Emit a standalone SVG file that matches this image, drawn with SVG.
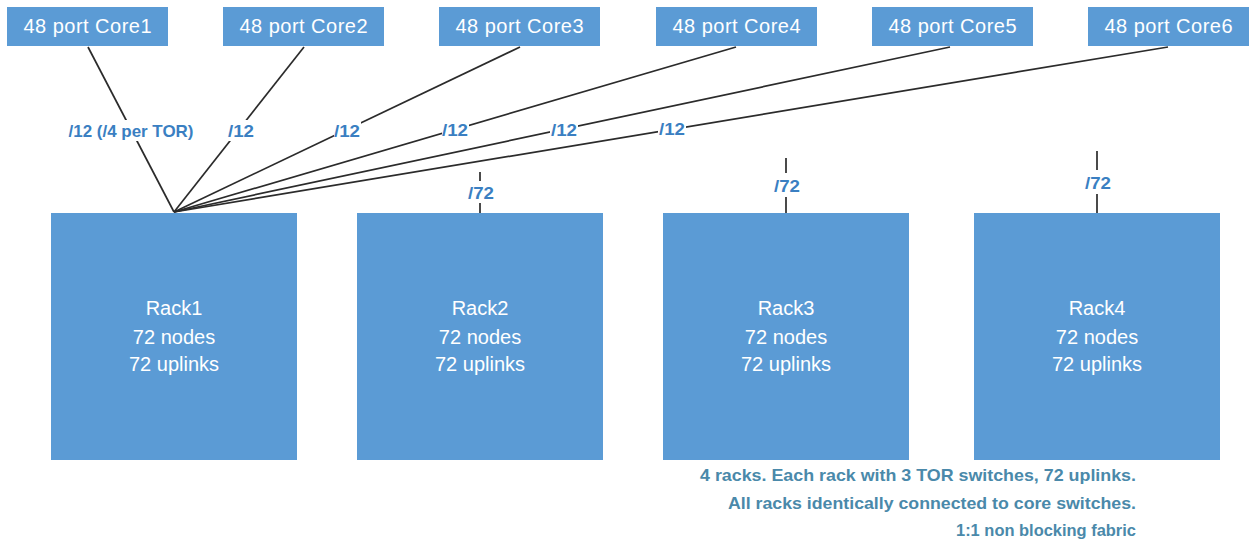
<svg xmlns="http://www.w3.org/2000/svg" width="1253" height="546" viewBox="0 0 1253 546">
<style>
.box{fill:#5B9BD5;}
.core{font-family:"Liberation Sans",Arial,sans-serif;font-size:20px;fill:#fff;text-anchor:middle;}
.rack{font-family:"Liberation Sans",Arial,sans-serif;font-size:20px;fill:#fff;text-anchor:middle;}
.lbl{font-family:"Liberation Sans",Arial,sans-serif;font-size:17px;font-weight:bold;fill:#3A7FC2;text-anchor:middle;}
.note{font-family:"Liberation Sans",Arial,sans-serif;font-size:17px;font-weight:bold;fill:#4A89AA;text-anchor:end;}
.ln{stroke:#2b2b2b;stroke-width:1.7;fill:none;}
.bg{fill:#fff;}
</style>
<rect width="1253" height="546" fill="#fff"/>
<g id="connectors">
<line class="ln" x1="174" y1="212" x2="88" y2="47"/>
<line class="ln" x1="174" y1="212" x2="304" y2="47"/>
<line class="ln" x1="174" y1="212" x2="520" y2="47"/>
<line class="ln" x1="174" y1="212" x2="736" y2="47"/>
<line class="ln" x1="174" y1="212" x2="950" y2="47"/>
<line class="ln" x1="174" y1="212" x2="1168" y2="47"/>
<rect class="bg" x="67" y="120" width="128" height="21"/>
<rect class="bg" x="227" y="120" width="28" height="21"/>
<rect class="bg" x="334" y="120" width="27" height="21"/>
<rect class="bg" x="442" y="119" width="27" height="21"/>
<rect class="bg" x="550" y="119" width="28" height="21"/>
<rect class="bg" x="658" y="118" width="28" height="21"/>
<text class="lbl" x="131" y="137" textLength="125" lengthAdjust="spacingAndGlyphs">/12 (/4 per TOR)</text>
<text class="lbl" x="241" y="137" textLength="26" lengthAdjust="spacingAndGlyphs">/12</text>
<text class="lbl" x="347" y="137" textLength="26" lengthAdjust="spacingAndGlyphs">/12</text>
<text class="lbl" x="455" y="136" textLength="26" lengthAdjust="spacingAndGlyphs">/12</text>
<text class="lbl" x="564" y="136" textLength="26" lengthAdjust="spacingAndGlyphs">/12</text>
<text class="lbl" x="672" y="135" textLength="26" lengthAdjust="spacingAndGlyphs">/12</text>
<line class="ln" x1="480" y1="172" x2="480" y2="181"/>
<line class="ln" x1="480" y1="203" x2="480" y2="213"/>
<text class="lbl" x="481" y="199" textLength="26" lengthAdjust="spacingAndGlyphs">/72</text>
<line class="ln" x1="786" y1="158" x2="786" y2="173"/>
<line class="ln" x1="786" y1="197" x2="786" y2="213"/>
<text class="lbl" x="787" y="192" textLength="26" lengthAdjust="spacingAndGlyphs">/72</text>
<line class="ln" x1="1097" y1="151" x2="1097" y2="170"/>
<line class="ln" x1="1097" y1="194" x2="1097" y2="213"/>
<text class="lbl" x="1098" y="189" textLength="26" lengthAdjust="spacingAndGlyphs">/72</text>
</g>
<g id="core1"><rect class="box" x="7" y="7" width="161" height="39"/><text class="core" x="87.5" y="33" textLength="128">48 port Core1</text></g>
<g id="core2"><rect class="box" x="223" y="7" width="161" height="39"/><text class="core" x="303.5" y="33" textLength="128">48 port Core2</text></g>
<g id="core3"><rect class="box" x="439" y="7" width="161" height="39"/><text class="core" x="519.5" y="33" textLength="128">48 port Core3</text></g>
<g id="core4"><rect class="box" x="656" y="7" width="161" height="39"/><text class="core" x="736.5" y="33" textLength="128">48 port Core4</text></g>
<g id="core5"><rect class="box" x="872" y="7" width="161" height="39"/><text class="core" x="952.5" y="33" textLength="128">48 port Core5</text></g>
<g id="core6"><rect class="box" x="1088" y="7" width="161" height="39"/><text class="core" x="1168.5" y="33" textLength="128">48 port Core6</text></g>
<g id="rack1"><rect class="box" x="51" y="213" width="246" height="247"/><text class="rack" x="174" y="315">Rack1</text><text class="rack" x="174" y="344">72 nodes</text><text class="rack" x="174" y="371">72 uplinks</text></g>
<g id="rack2"><rect class="box" x="357" y="213" width="246" height="247"/><text class="rack" x="480" y="315">Rack2</text><text class="rack" x="480" y="344">72 nodes</text><text class="rack" x="480" y="371">72 uplinks</text></g>
<g id="rack3"><rect class="box" x="663" y="213" width="246" height="247"/><text class="rack" x="786" y="315">Rack3</text><text class="rack" x="786" y="344">72 nodes</text><text class="rack" x="786" y="371">72 uplinks</text></g>
<g id="rack4"><rect class="box" x="974" y="213" width="246" height="247"/><text class="rack" x="1097" y="315">Rack4</text><text class="rack" x="1097" y="344">72 nodes</text><text class="rack" x="1097" y="371">72 uplinks</text></g>
<g id="note">
<text class="note" x="1136" y="481" textLength="436" lengthAdjust="spacingAndGlyphs">4 racks. Each rack with 3 TOR switches, 72 uplinks.</text>
<text class="note" x="1136" y="509" textLength="408" lengthAdjust="spacingAndGlyphs">All racks identically connected to core switches.</text>
<text class="note" x="1136" y="536" textLength="180" lengthAdjust="spacingAndGlyphs">1:1 non blocking fabric</text>
</g>
</svg>
